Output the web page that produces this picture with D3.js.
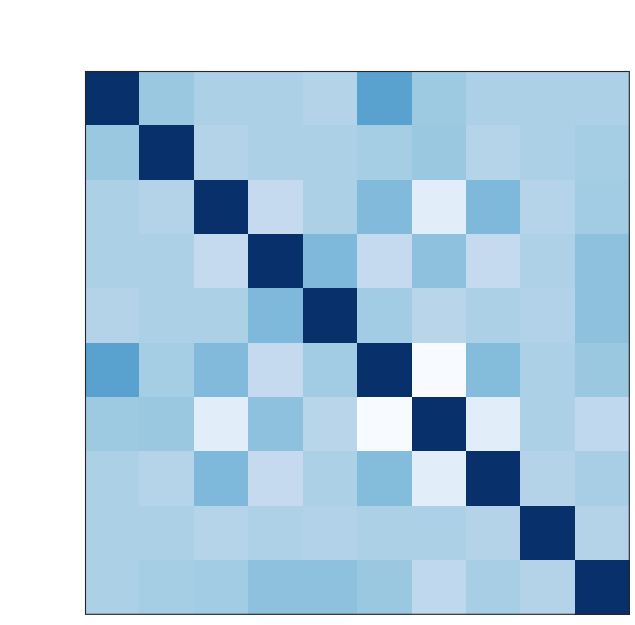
<!DOCTYPE html>
<html>
<head>
<meta charset="utf-8">
<script src="https://cdn.jsdelivr.net/npm/d3@7"></script>
<style>
  html, body { margin: 0; padding: 0; background: #ffffff; }
  svg { display: block; }
</style>
</head>
<body>
<div id="chart"></div>
<script>
// Variable indices (no labels shown in the reference)
const variables = ["V0", "V1", "V2", "V3", "V4", "V5", "V6", "V7", "V8", "V9"];

// Correlation matrix rows
const row0 = [1.00, 0.20, 0.13, 0.13, 0.10, 0.42, 0.19, 0.13, 0.13, 0.13];
const row1 = [0.20, 1.00, 0.10, 0.13, 0.13, 0.16, 0.20, 0.09, 0.13, 0.16];
const row2 = [0.13, 0.10, 1.00, 0.03, 0.13, 0.28, -0.16, 0.29, 0.09, 0.17];
const row3 = [0.13, 0.13, 0.03, 1.00, 0.29, 0.03, 0.24, 0.03, 0.12, 0.24];
const row4 = [0.10, 0.13, 0.13, 0.29, 1.00, 0.17, 0.08, 0.13, 0.11, 0.24];
const row5 = [0.42, 0.16, 0.28, 0.03, 0.17, 1.00, -0.30, 0.27, 0.13, 0.20];
const row6 = [0.19, 0.20, -0.16, 0.24, 0.08, -0.30, 1.00, -0.16, 0.13, 0.05];
const row7 = [0.13, 0.09, 0.29, 0.03, 0.13, 0.27, -0.16, 1.00, 0.10, 0.15];
const row8 = [0.13, 0.13, 0.09, 0.12, 0.11, 0.13, 0.13, 0.10, 1.00, 0.10];
const row9 = [0.13, 0.16, 0.17, 0.24, 0.24, 0.20, 0.05, 0.15, 0.10, 1.00];
const matrix = [row0, row1, row2, row3, row4, row5, row6, row7, row8, row9];

// Blues colormap stops
const bluesStops = ["#f7fbff", "#deebf7", "#c6dbef", "#9ecae1", "#6baed6",
                    "#4292c6", "#2171b5", "#08519c", "#08306b"];

const W = 635, H = 625;
const plotLeft = 85, plotTop = 71, plotRight = 629.3, plotBottom = 614.3;

const svg = d3.select("#chart").append("svg")
  .attr("width", W).attr("height", H);

const x = d3.scaleBand().domain(d3.range(variables.length)).range([plotLeft, plotRight]).padding(0);
const y = d3.scaleBand().domain(d3.range(variables.length)).range([plotTop, plotBottom]).padding(0);

const flat = matrix.flat();
const vmin = d3.min(flat), vmax = d3.max(flat);
const color = d3.scaleLinear()
  .domain(bluesStops.map((_, i) => vmin + (vmax - vmin) * i / (bluesStops.length - 1)))
  .range(bluesStops)
  .interpolate(d3.interpolateRgb);

const cells = [];
matrix.forEach((row, i) => row.forEach((v, j) => cells.push({ i, j, v })));

svg.append("g")
  .selectAll("rect")
  .data(cells)
  .join("rect")
  .attr("x", d => x(d.j))
  .attr("y", d => y(d.i))
  .attr("width", x.bandwidth() + 0.5)
  .attr("height", y.bandwidth() + 0.5)
  .attr("fill", d => color(d.v))
  .attr("shape-rendering", "crispEdges");

// Frame (spines)
svg.append("rect")
  .attr("x", plotLeft + 0.5)
  .attr("y", plotTop + 0.5)
  .attr("width", plotRight - plotLeft - 0.5)
  .attr("height", plotBottom - plotTop - 0.5)
  .attr("fill", "none")
  .attr("stroke", "#262626")
  .attr("stroke-width", 1.1);
</script>
</body>
</html>
